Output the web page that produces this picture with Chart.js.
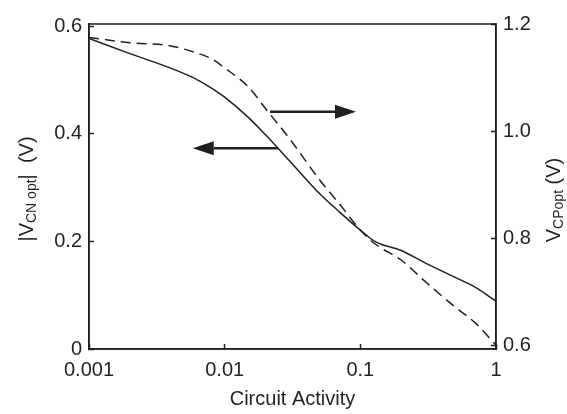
<!DOCTYPE html>
<html>
<head>
<meta charset="utf-8">
<script src="https://cdn.jsdelivr.net/npm/chart.js@4.4.1/dist/chart.umd.min.js"></script>
<style>
  html, body { margin: 0; padding: 0; background: #fff; }
</style>
</head>
<body>
<canvas id="activity" width="567" height="414"></canvas>
<script>
// values
const activity = [0.001, 0.002, 0.004, 0.006, 0.008, 0.01, 0.015, 0.02, 0.03, 0.05, 0.07, 0.1, 0.13, 0.2, 0.3, 0.5, 0.7, 1];
const vcnOpt = [0.577, 0.549, 0.522, 0.503, 0.485, 0.468, 0.430, 0.398, 0.350, 0.289, 0.255, 0.221, 0.199, 0.183, 0.160, 0.133, 0.115, 0.089];
const vcpOpt = [1.175, 1.165, 1.159, 1.147, 1.135, 1.118, 1.082, 1.042, 0.986, 0.909, 0.864, 0.815, 0.788, 0.759, 0.719, 0.671, 0.642, 0.600];
const xTicks = [0.001, 0.01, 0.1, 1];
const leftTicks = [0, 0.2, 0.4, 0.6];
const rightTicks = [0.6, 0.8, 1.0, 1.2];
// arrows in (activity, |VCN opt|) units: tail -> tip
const arrows = [
  { from: [0.0216, 0.441], to: [0.0929, 0.441] },
  { from: [0.0247, 0.373], to: [0.00582, 0.373] }
];

const ink = '#231f20';
const family = '"Liberation Sans", Arial, Helvetica, sans-serif';
const tickFont = { family: family, size: 20 };

const fixTicks = list => scale => { scale.ticks = list.map(v => ({ value: v })); };

// draws a rotated axis title with a subscript part
function rotatedTitle(ctx, cx, cy, parts) {
  ctx.save();
  ctx.translate(cx, cy);
  ctx.rotate(-Math.PI / 2);
  ctx.fillStyle = ink;
  ctx.textBaseline = 'alphabetic';
  let total = 0;
  parts.forEach(p => {
    ctx.font = (p.sub ? 14 : 20) + 'px ' + family;
    p.w = ctx.measureText(p.t).width;
    total += p.w;
  });
  let x = -total / 2;
  parts.forEach(p => {
    ctx.font = (p.sub ? 14 : 20) + 'px ' + family;
    ctx.fillText(p.t, x, p.sub ? 3 : 0);
    x += p.w;
  });
  ctx.restore();
}

const decorations = {
  id: 'decorations',
  afterDraw(chart) {
    const { ctx, chartArea, scales } = chart;
    ctx.save();
    // frame
    ctx.strokeStyle = ink;
    ctx.lineWidth = 1.5;
    ctx.strokeRect(chartArea.left, chartArea.top, chartArea.right - chartArea.left, chartArea.bottom - chartArea.top);

    // arrows
    ctx.fillStyle = ink;
    ctx.lineWidth = 2.5;
    arrows.forEach(a => {
      const x0 = scales.x.getPixelForValue(a.from[0]);
      const y0 = scales.y.getPixelForValue(a.from[1]);
      const x1 = scales.x.getPixelForValue(a.to[0]);
      const y1 = scales.y.getPixelForValue(a.to[1]);
      const dir = Math.sign(x1 - x0);
      const headLen = 21, headHalf = 7;
      ctx.beginPath();
      ctx.moveTo(x0, y0);
      ctx.lineTo(x1 - dir * headLen, y1);
      ctx.stroke();
      ctx.beginPath();
      ctx.moveTo(x1, y1);
      ctx.lineTo(x1 - dir * headLen, y1 - headHalf);
      ctx.lineTo(x1 - dir * headLen, y1 + headHalf);
      ctx.closePath();
      ctx.fill();
    });
    ctx.restore();

    rotatedTitle(ctx, 33, 189, [{ t: '|V' }, { t: 'CN opt', sub: true }, { t: '|  (V)' }]);
    rotatedTitle(ctx, 560, 200, [{ t: 'V' }, { t: 'CPopt', sub: true }, { t: ' (V)' }]);
  }
};

const ctx = document.getElementById('activity').getContext('2d');
new Chart(ctx, {
  type: 'line',
  data: {
    datasets: [
      {
        data: activity.map((a, i) => ({ x: a, y: vcnOpt[i] })),
        yAxisID: 'y',
        borderColor: ink,
        borderWidth: 1.5,
        pointRadius: 0,
        cubicInterpolationMode: 'monotone'
      },
      {
        data: activity.map((a, i) => ({ x: a, y: vcpOpt[i] })),
        yAxisID: 'y1',
        borderColor: ink,
        borderWidth: 1.5,
        borderDash: [10, 6],
        pointRadius: 0,
        cubicInterpolationMode: 'monotone'
      }
    ]
  },
  options: {
    responsive: false,
    animation: false,
    devicePixelRatio: 1,
    layout: { padding: { top: 15, left: 0, right: 0, bottom: 0 } },
    plugins: { legend: { display: false }, tooltip: { enabled: false } },
    scales: {
      x: {
        type: 'logarithmic',
        min: 0.001,
        max: 1,
        afterBuildTicks: fixTicks(xTicks),
        afterFit: s => { s.height = 65; },
        grid: { drawOnChartArea: false, tickLength: -5, color: ink, tickWidth: 1.5 },
        border: { color: ink, width: 1.5 },
        ticks: { color: ink, font: tickFont, padding: 14, autoSkip: false, maxRotation: 0, callback: v => String(v) },
        title: { display: true, text: 'Circuit Activity', color: ink, font: tickFont, padding: { top: 0, bottom: 3 } }
      },
      y: {
        position: 'left',
        min: 0,
        max: 0.604,
        afterBuildTicks: fixTicks(leftTicks),
        afterFit: s => { s.width = 89; },
        grid: { drawOnChartArea: false, tickLength: -5, color: ink, tickWidth: 1.5 },
        border: { color: ink, width: 1.5 },
        ticks: { color: ink, font: tickFont, padding: 12, callback: v => v === 0 ? '0' : v.toFixed(1) }
      },
      y1: {
        position: 'right',
        min: 0.5927,
        max: 1.2,
        afterBuildTicks: fixTicks(rightTicks),
        afterFit: s => { s.width = 71; },
        grid: { drawOnChartArea: false, tickLength: -5, color: ink, tickWidth: 1.5 },
        border: { color: ink, width: 1.5 },
        ticks: { color: ink, font: tickFont, padding: 12, callback: v => v.toFixed(1) }
      }
    }
  },
  plugins: [decorations]
});
</script>
</body>
</html>
